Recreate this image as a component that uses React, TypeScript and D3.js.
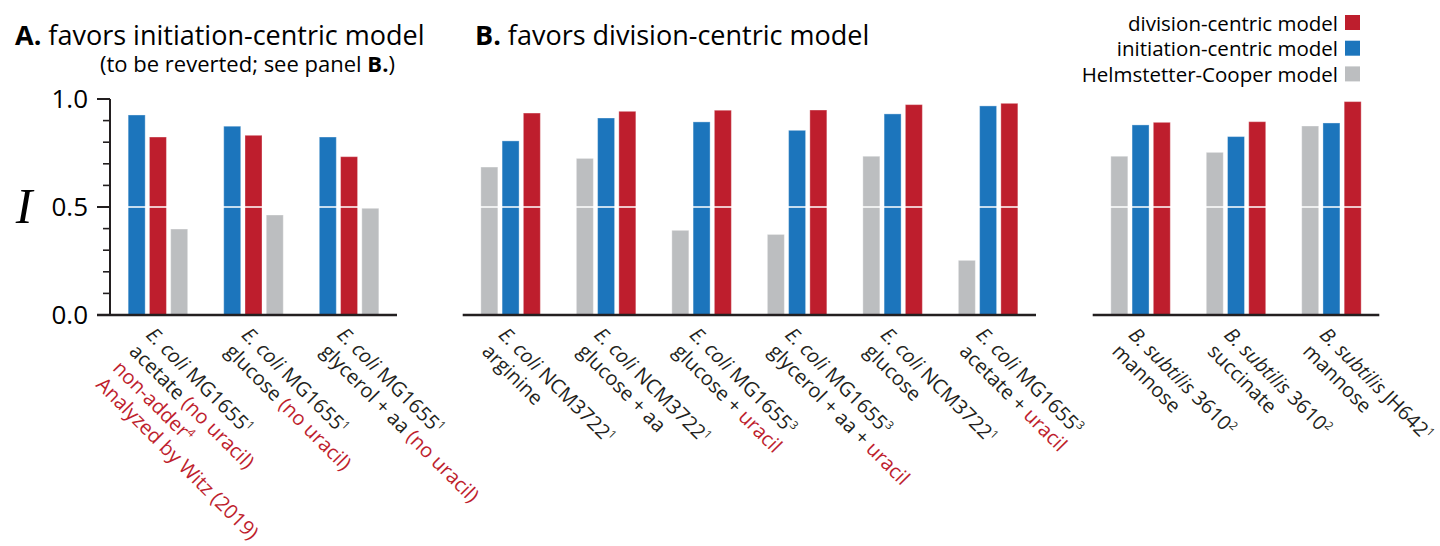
import React from "react";
import * as d3 from "d3";

// ---------- data ----------
type Seg = { t: string; it?: boolean; red?: boolean; sup?: boolean; bold?: boolean };

const seriesKeys = ["division", "initiation", "hc"];
const seriesNames = ["division-centric model", "initiation-centric model", "Helmstetter-Cooper model"];

const labelsA: Seg[][][] = [
  [
    [{ t: "E. coli", it: true }, { t: " MG1655" }, { t: "1", sup: true }],
    [{ t: "acetate " }, { t: "(no uracil)", red: true }],
    [{ t: "non-adder", red: true }, { t: "4", sup: true, red: true }],
    [{ t: "Analyzed by Witz (2019)", red: true }],
  ],
  [
    [{ t: "E. coli", it: true }, { t: " MG1655" }, { t: "1", sup: true }],
    [{ t: "glucose " }, { t: "(no uracil)", red: true }],
  ],
  [
    [{ t: "E. coli", it: true }, { t: " MG1655" }, { t: "1", sup: true }],
    [{ t: "glycerol + aa " }, { t: "(no uracil)", red: true }],
  ],
];
const divisionA = [0.824, 0.832, 0.733];
const initiationA = [0.926, 0.874, 0.824];
const hcA = [0.398, 0.463, 0.494];

const labelsB: Seg[][][] = [
  [[{ t: "E. coli", it: true }, { t: " NCM3722" }, { t: "1", sup: true }], [{ t: "arginine" }]],
  [[{ t: "E. coli", it: true }, { t: " NCM3722" }, { t: "1", sup: true }], [{ t: "glucose + aa" }]],
  [[{ t: "E. coli", it: true }, { t: " MG1655" }, { t: "3", sup: true }], [{ t: "glucose + " }, { t: "uracil", red: true }]],
  [[{ t: "E. coli", it: true }, { t: " MG1655" }, { t: "3", sup: true }], [{ t: "glycerol + aa + " }, { t: "uracil", red: true }]],
  [[{ t: "E. coli", it: true }, { t: " NCM3722" }, { t: "1", sup: true }], [{ t: "glucose" }]],
  [[{ t: "E. coli", it: true }, { t: " MG1655" }, { t: "3", sup: true }], [{ t: "acetate + " }, { t: "uracil", red: true }]],
];
const divisionB = [0.935, 0.943, 0.948, 0.949, 0.974, 0.98];
const initiationB = [0.806, 0.912, 0.894, 0.855, 0.931, 0.968];
const hcB = [0.685, 0.725, 0.392, 0.373, 0.735, 0.253];

const labelsC: Seg[][][] = [
  [[{ t: "B. subtilis", it: true }, { t: " 3610" }, { t: "2", sup: true }], [{ t: "mannose" }]],
  [[{ t: "B. subtilis", it: true }, { t: " 3610" }, { t: "2", sup: true }], [{ t: "succinate" }]],
  [[{ t: "B. subtilis", it: true }, { t: " JH642" }, { t: "1", sup: true }], [{ t: "mannose" }]],
];
const divisionC = [0.892, 0.895, 0.988];
const initiationC = [0.88, 0.826, 0.889];
const hcC = [0.735, 0.753, 0.875];

const yTicksMajor = [0, 0.5, 1];
const yTicksMinor = d3.range(0, 11).map((i) => i / 10);

// ---------- style ----------
const COLORS: Record<string, string> = { division: "#be1e2d", initiation: "#1c75bc", hc: "#bcbec0" };
const RED = "#be1e2d";
const INK = "#231f20";
const FONT = "'Open Sans', sans-serif";
const LABEL_SIZE = 20;

const y = d3.scaleLinear().domain([0, 1]).range([315, 99]);

type PanelDef = {
  range: [number, number];
  order: string[];
  labels: Seg[][][];
  values: Record<string, number[]>;
};

const panels: PanelDef[] = [
  { range: [110, 397], order: ["initiation", "division", "hc"], labels: labelsA, values: { division: divisionA, initiation: initiationA, hc: hcA } },
  { range: [462.7, 1036], order: ["hc", "initiation", "division"], labels: labelsB, values: { division: divisionB, initiation: initiationB, hc: hcB } },
  { range: [1092.7, 1379.3], order: ["hc", "initiation", "division"], labels: labelsC, values: { division: divisionC, initiation: initiationC, hc: hcC } },
];

function Label({ lines, x0, y0 }: { lines: Seg[][]; x0: number; y0: number }) {
  const lh = 23.5;
  return (
    <g transform={`translate(${x0},${y0}) rotate(45)`}>
      {lines.map((line, li) => (
        <text key={li} x={0} y={li * lh} fontFamily={FONT} fontSize={LABEL_SIZE} fill={INK}>
          {line.map((s, si) => (
            <tspan
              key={si}
              fill={s.red ? RED : INK}
              fontStyle={s.it ? "italic" : "normal"}
              fontSize={s.sup ? 11.5 : LABEL_SIZE}
              dy={s.sup ? -7.5 : 0}
            >
              {s.t}
            </tspan>
          ))}
        </text>
      ))}
    </g>
  );
}

function Panel({ p, idx }: { p: PanelDef; idx: number }) {
  const n = p.labels.length;
  const x = d3
    .scaleBand<number>()
    .domain(d3.range(n))
    .range(p.range)
    .paddingInner(0.377)
    .paddingOuter(0.19);
  const xi = d3.scaleBand<string>().domain(p.order).range([0, x.bandwidth()]).paddingInner(0.2);
  const axisStart = idx === 0 ? 97 : p.range[0];
  return (
    <g>
      {d3.range(n).map((g) => (
        <g key={g}>
          {p.order.map((k) => {
            const v = p.values[k][g];
            return (
              <rect
                key={k}
                x={(x(g) as number) + (xi(k) as number)}
                y={y(v)}
                width={xi.bandwidth()}
                height={y(0) - y(v)}
                fill={COLORS[k]}
                stroke="#ffffff"
                strokeOpacity={0.35}
                strokeWidth={1}
              />
            );
          })}
        </g>
      ))}
      <line x1={p.range[0] + 1.5} x2={p.range[1]} y1={y(0.5)} y2={y(0.5)} stroke="#fff" strokeWidth={1.5} />
      <line x1={axisStart} x2={p.range[1]} y1={y(0)} y2={y(0)} stroke={INK} strokeWidth={2.5} />
      {d3.range(n).map((g) => (
        <Label key={g} lines={p.labels[g]} x0={(x(g) as number) + x.bandwidth() / 2 - 13} y0={336} />
      ))}
    </g>
  );
}

export default function App() {
  const axisX = 110;
  return (
    <svg width={1440} height={546} style={{ position: "absolute", left: 0, top: 0 }} fontFamily={FONT}>
      <rect width={1440} height={546} fill="#fff" />
      {/* titles */}
      <text x={15} y={45} fontSize={27} fill="#000">
        <tspan fontWeight="bold">A.</tspan>
        <tspan> favors initiation-centric model</tspan>
      </text>
      <text x={100} y={72} fontSize={22} fill="#000">
        <tspan>(to be reverted; see panel </tspan>
        <tspan fontWeight="bold">B.</tspan>
        <tspan>)</tspan>
      </text>
      <text x={475} y={45} fontSize={27} fill="#000">
        <tspan fontWeight="bold">B.</tspan>
        <tspan> favors division-centric model</tspan>
      </text>
      {/* legend */}
      {seriesKeys.map((k, i) => (
        <g key={k}>
          <rect x={1345} y={15 + i * 25.7} width={15} height={15} fill={COLORS[k]} />
          <text x={1338} y={30.5 + i * 25.7} fontSize={20.5} textAnchor="end" fill="#000">
            {seriesNames[i]}
          </text>
        </g>
      ))}
      {/* y axis */}
      <text x={24} y={223} fontFamily="'Liberation Serif', serif" fontStyle="italic" fontSize={50} textAnchor="middle" fill="#000">
        I
      </text>
      <line x1={axisX} x2={axisX} y1={y(1)} y2={y(0)} stroke={INK} strokeWidth={2} />
      {yTicksMinor.map((t) => (
        <line key={t} x1={axisX - 7} x2={axisX} y1={y(t)} y2={y(t)} stroke={INK} strokeWidth={1.6} />
      ))}
      {yTicksMajor.map((t) => (
        <g key={t}>
          <line x1={97} x2={axisX} y1={y(t)} y2={y(t)} stroke={INK} strokeWidth={2} />
          <text x={88} y={y(t) + 9} fontSize={26} textAnchor="end" fill="#000">
            {d3.format(".1f")(t)}
          </text>
        </g>
      ))}
      {panels.map((p, i) => (
        <Panel key={i} p={p} idx={i} />
      ))}
    </svg>
  );
}
